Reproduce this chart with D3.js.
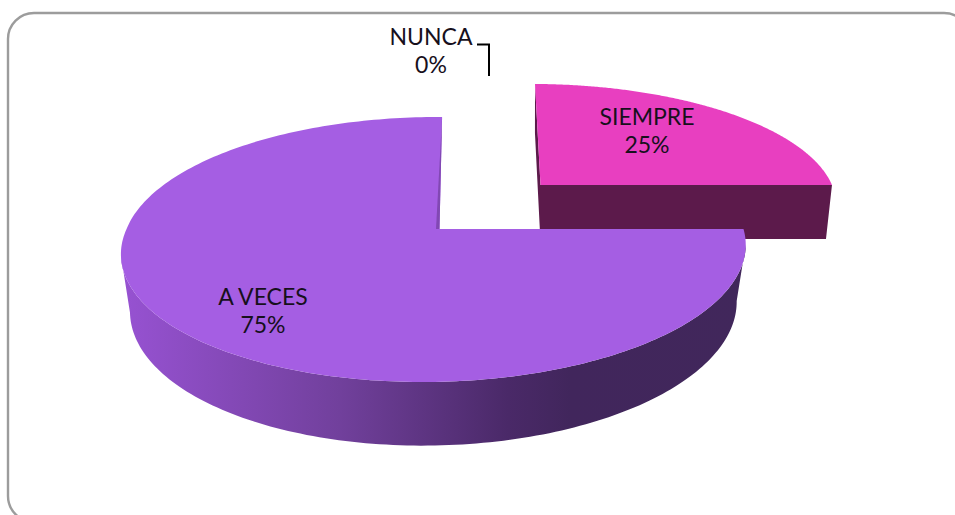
<!DOCTYPE html>
<html>
<head>
<meta charset="utf-8">
<style>
  html, body { margin: 0; padding: 0; background: #fff; overflow: hidden; }
  svg { display: block; }
  text { font-family: Lato, "Open Sans", sans-serif; font-size: 23px; fill: #17101c; text-anchor: middle; }
</style>
<script src="https://cdn.jsdelivr.net/npm/d3@7"></script>
</head>
<body>
<div id="chart"></div>
<script>
const categories = ["SIEMPRE", "A VECES", "NUNCA"];
const values = [25, 75, 0];
const percentLabels = ["25%", "75%", "0%"];

const topColors = ["#e83fc0", "#a55ee3", "#a55ee3"];
const W = 955, H = 515;

// one projection per exploded slice: circle -> screen, plus how the lower rim shifts
const pinkView = { cx: 540.5, cy: 185, B: 295.7, Cback: 6.3, Cfront: 6.3, A: 116, a: 0.0145, b: -0.148, xvp: 532, sx: 0.98, depth: 54 };
const purpleView = { cx: 439.5, cy: 229, B: 308.4, Cback: -3, Cfront: -10, A: 129.3, a: 0.0145, b: -0.1547, xvp: 433.5, sx: 0.971, depth: 56 };
const views = [pinkView, purpleView, purpleView];

function project(view, angle) {
  const u = Math.sin(angle), v = -Math.cos(angle);
  const w = 1 + view.a * u + view.b * v;
  const c = v > 0 ? view.Cfront : view.Cback;
  return [view.cx + (view.B * u + c * v) / w, view.cy + view.A * v / w];
}

function lower(view, p) {
  return [view.xvp + (p[0] - view.xvp) * view.sx, p[1] + view.depth + 0.05 * (p[1] - view.cy)];
}

const svg = d3.select("#chart").append("svg").attr("width", W).attr("height", H);

const defs = svg.append("defs");
const rimGrad = defs.append("linearGradient").attr("id", "rim")
  .attr("gradientUnits", "userSpaceOnUse").attr("x1", 122).attr("x2", 745).attr("y1", 0).attr("y2", 0);
[["0%", "#9752d2"], ["35%", "#71409c"], ["62%", "#4a2968"], ["72%", "#41265c"], ["100%", "#41275b"]]
  .forEach(s => rimGrad.append("stop").attr("offset", s[0]).attr("stop-color", s[1]));

svg.append("rect").attr("x", 8).attr("y", 13).attr("width", 962).attr("height", 509).attr("rx", 26)
  .attr("fill", "#fff").attr("stroke", "#9c9c9c").attr("stroke-width", 2.4);

const slices = d3.pie().sort(null).value(d => d)(values);
const line = d3.line();

function arcPoints(view, d) {
  const n = 240;
  return d3.range(n + 1).map(i => project(view, d.startAngle + (d.endAngle - d.startAngle) * i / n));
}

slices.forEach((d, i) => {
  if (d.value === 0) return;
  const view = views[i];
  const apex = [view.cx, view.cy];
  const rim = arcPoints(view, d);
  const lowerRim = rim.map(p => lower(view, p));
  const last = rim.length - 1;
  const g = svg.append("g").attr("class", "slice");

  if (i === 0) {
    // pink wedge: flat front wall and a thin inner wall on the left
    g.append("path").attr("fill", "#5c1a4b")
      .attr("d", line([rim[0], apex, rim[last], lowerRim[last], lower(view, apex), lowerRim[0]]) + "Z");
  } else {
    // outer wall between the widest points of the two rims
    const iRight = d3.greatestIndex(rim, p => p[0]), iLeft = d3.leastIndex(rim, p => p[0]);
    const jRight = d3.greatestIndex(lowerRim, p => p[0]), jLeft = d3.leastIndex(lowerRim, p => p[0]);
    const wall = rim.slice(iRight, iLeft + 1).concat(lowerRim.slice(jRight, jLeft + 1).reverse());
    g.append("path").attr("fill", "url(#rim)").attr("d", line(wall) + "Z");
  }

  g.append("path").attr("fill", topColors[i])
    .attr("d", line([apex].concat(rim)) + "Z");

  if (i !== 0) {
    // darker strip along the notch
    g.append("path").attr("fill", "#8148b3")
      .attr("d", line([rim[last], apex, [apex[0] - 3.5, apex[1]]]) + "Z");
  }
});

// labels, placed by hand from the picture
const labelPos = [[647, 125], [263, 305], [431, 45]];
categories.forEach((c, i) => {
  const t = svg.append("text").attr("x", labelPos[i][0]).attr("y", labelPos[i][1]);
  t.append("tspan").attr("x", labelPos[i][0]).text(c);
  t.append("tspan").attr("x", labelPos[i][0]).attr("dy", 28).text(percentLabels[i]);
});

// leader line for the empty slice
svg.append("path").attr("fill", "none").attr("stroke", "#000").attr("stroke-width", 2)
  .attr("d", line([[477, 44.5], [489, 44.5], [489, 76]]));
</script>
</body>
</html>
